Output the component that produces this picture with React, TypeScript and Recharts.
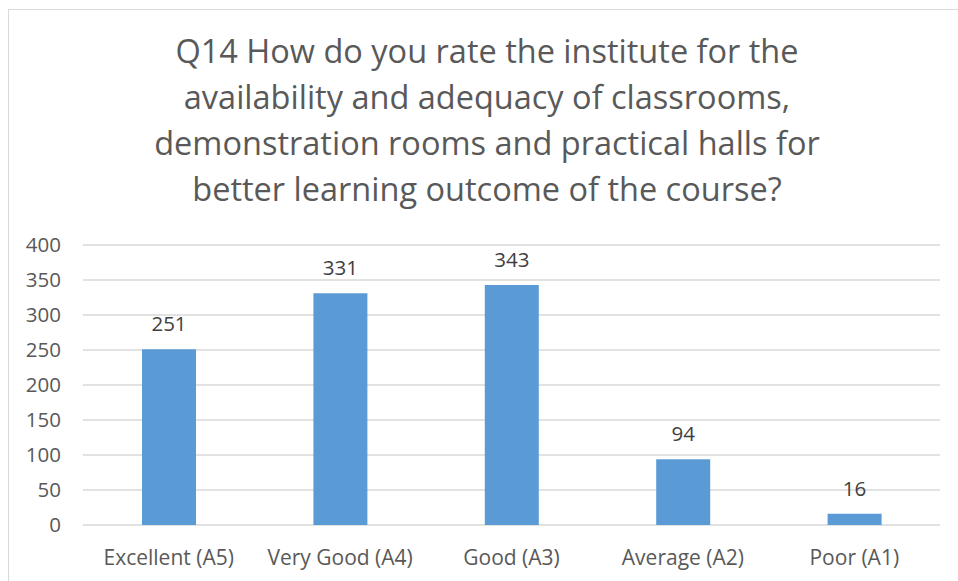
import { BarChart, Bar, XAxis, YAxis, CartesianGrid, LabelList } from 'recharts';

const TITLE_LINES = [
    'Q14 How do you rate the institute for the',
    'availability and adequacy of classrooms,',
    'demonstration rooms and practical halls for',
    'better learning outcome of the course?',
];

const CATEGORIES = ['Excellent (A5)', 'Very Good (A4)', 'Good (A3)', 'Average (A2)', 'Poor (A1)'];
const RESPONSES = [251, 331, 343, 94, 16];
const Y_TICKS = [0, 50, 100, 150, 200, 250, 300, 350, 400];

const FONT = '"Open Sans", Calibri, sans-serif';
const GRID = '#d9d9d9';

const data = CATEGORIES.map((name, i) => ({ name, value: RESPONSES[i] }));

export default function App() {
    return (
        <div style={{ position: 'relative', width: 958, height: 581, background: '#fff', overflow: 'hidden' }}>
            <style>{'body{margin:0;overflow:hidden}'}</style>
            <div
                style={{
                    position: 'absolute',
                    left: 8,
                    top: 9,
                    width: 960,
                    height: 600,
                    borderLeft: `1.5px solid ${GRID}`,
                    borderTop: `1.5px solid ${GRID}`,
                }}
            />
            <div
                style={{
                    position: 'absolute',
                    left: 8,
                    width: 958,
                    top: 28,
                    textAlign: 'center',
                    fontFamily: FONT,
                    fontSize: 32.5,
                    lineHeight: '46px',
                    color: '#595959',
                }}
            >
                {TITLE_LINES.map(l => (
                    <div key={l}>{l}</div>
                ))}
            </div>
            <div style={{ position: 'absolute', left: 0, top: 0 }}>
                <BarChart
                    width={958}
                    height={581}
                    data={data}
                    margin={{ top: 245, right: 18, left: 23, bottom: 0 }}
                    barSize={54}
                >
                    <CartesianGrid stroke={GRID} strokeWidth={1.5} vertical={false} />
                    <XAxis
                        dataKey="name"
                        height={56}
                        axisLine={false}
                        tickLine={false}
                        tickSize={0}
                        tickMargin={25}
                        interval={0}
                        tick={{ fill: '#595959', fontSize: 21, fontFamily: FONT }}
                    />
                    <YAxis
                        width={60}
                        domain={[0, 400]}
                        ticks={Y_TICKS}
                        axisLine={false}
                        tickLine={false}
                        tickSize={0}
                        tickMargin={22}
                        tick={{ fill: '#595959', fontSize: 20.5, fontFamily: FONT }}
                    />
                    <Bar dataKey="value" fill="#5b9bd5" isAnimationActive={false}>
                        <LabelList
                            dataKey="value"
                            position="top"
                            offset={18}
                            fill="#404040"
                            fontSize={20.5}
                            fontFamily={FONT}
                        />
                    </Bar>
                </BarChart>
            </div>
        </div>
    );
}
